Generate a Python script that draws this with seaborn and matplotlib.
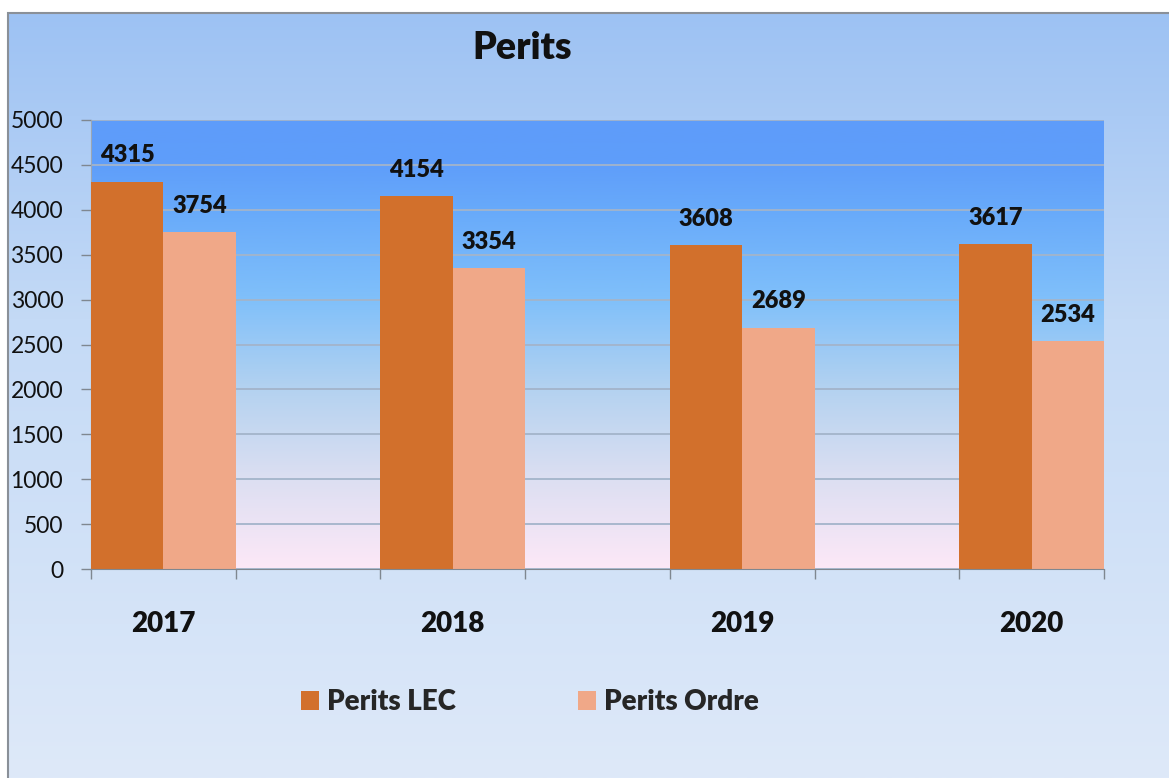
"""
Perits - grouped bar chart (LEC vs Ordre per year)
"""

import numpy as np
import pandas as pd
import matplotlib
matplotlib.use("Agg")
import matplotlib.pyplot as plt
from matplotlib.colors import LinearSegmentedColormap
from matplotlib.patches import Rectangle
from matplotlib.ticker import FixedLocator
import seaborn as sns

sns.set_style("white")
plt.rcParams['font.family'] = ['Lato', 'DejaVu Sans']

# data
years = ['2017', '2018', '2019', '2020']
perits_lec = [4315, 4154, 3608, 3617]
perits_ordre = [3754, 3354, 2689, 2534]
series_names = ['Perits LEC', 'Perits Ordre']
series_colors = ['#d2702c', '#f0a888']

df = pd.DataFrame({
    'year': years * 2,
    'value': perits_lec + perits_ordre,
    'serie': [series_names[0]] * len(years) + [series_names[1]] * len(years),
})

W, H = 1169, 778
BOLD = 800
fig = plt.figure(figsize=(W / 100, H / 100), dpi=100, facecolor='white')

# figure background gradient + border
bg_ax = fig.add_axes([8 / W, 0, 1 - 8 / W, 1 - 13 / H], zorder=-5)
bg_cmap = LinearSegmentedColormap.from_list(
    'bg', [(0, '#dee9f9'), (0.6, '#c4daf6'), (1, '#9dc2f3')])
bg_ax.imshow(np.linspace(0, 1, 256).reshape(-1, 1), cmap=bg_cmap,
             origin='lower', aspect='auto', extent=[0, 1, 0, 1])
bg_ax.axis('off')
fig.patches.append(Rectangle((8 / W, -0.01), 1.0, 1 - 13 / H + 0.01,
                             transform=fig.transFigure, fill=False,
                             edgecolor='#8a9098', linewidth=1.5, zorder=-4))

# plot area
ax = fig.add_axes([91 / W, 1 - 569 / H, (1104 - 91) / W, (569 - 120) / H])
ax.set_facecolor('none')
plot_cmap = LinearSegmentedColormap.from_list(
    'plot', [(0, '#fde8f7'), (0.2, '#dcdff2'), (0.4, '#b4d2f0'),
             (0.6, '#80c0fa'), (0.8, '#68aafa'), (0.9, '#5f9efa'), (1, '#5e9cfa')])
ax.imshow(np.linspace(0, 1, 256).reshape(-1, 1), cmap=plot_cmap,
          origin='lower', aspect='auto', extent=[0, 1, 0, 1],
          transform=ax.transAxes, zorder=0)

sns.barplot(data=df, x='year', y='value', hue='serie', palette=series_colors,
            width=0.5, saturation=1, edgecolor='none', linewidth=0,
            legend=False, ax=ax, zorder=3)

for cont in ax.containers:
    ax.bar_label(cont, padding=11, fontsize=17, fontweight=BOLD,
                 color='#111111')

ax.set_xlim(-0.25, len(years) - 0.75)
ax.set_ylim(0, 5000)
ax.set_yticks(np.arange(0, 5001, 500))
ax.yaxis.grid(True, color='#a3b4ca', linewidth=1.3, zorder=1)
ax.set_axisbelow(True)
ax.set_xlabel('')
ax.set_ylabel('')

ax.xaxis.set_minor_locator(FixedLocator(np.arange(-0.25, len(years), 0.5)))
ax.tick_params(axis='x', which='major', length=0, pad=30, labelsize=20)
ax.tick_params(axis='x', which='minor', length=7, width=1, color='#7f8790',
               direction='out', bottom=True)
ax.tick_params(axis='y', length=7, width=1, color='#7f8790', pad=13,
               labelsize=16.5, left=True, labelcolor='#111111')
for lbl in ax.get_xticklabels():
    lbl.set_fontweight(BOLD)
    lbl.set_color('#111111')

for side in ['top', 'right']:
    ax.spines[side].set_visible(False)
ax.spines['bottom'].set_color('#7f8790')
ax.spines['left'].set_color('#9aa6b4')
ax.spines['bottom'].set_zorder(4)

# title
fig.text(522 / W, 1 - 48 / H, 'Perits', ha='center', va='center',
         fontsize=27, fontweight=BOLD, color='#111111')

# legend
handles = [Rectangle((0, 0), 1, 1, facecolor=c, edgecolor='none')
           for c in series_colors]
fig.legend(handles, series_names, loc='center', ncol=2, frameon=False,
           bbox_to_anchor=(530 / W, 1 - 702 / H),
           prop={'size': 20, 'weight': BOLD},
           handlelength=0.65, handleheight=0.65, handletextpad=0.3,
           columnspacing=4.4)

plt.savefig('out.png', dpi=100, facecolor='white')
